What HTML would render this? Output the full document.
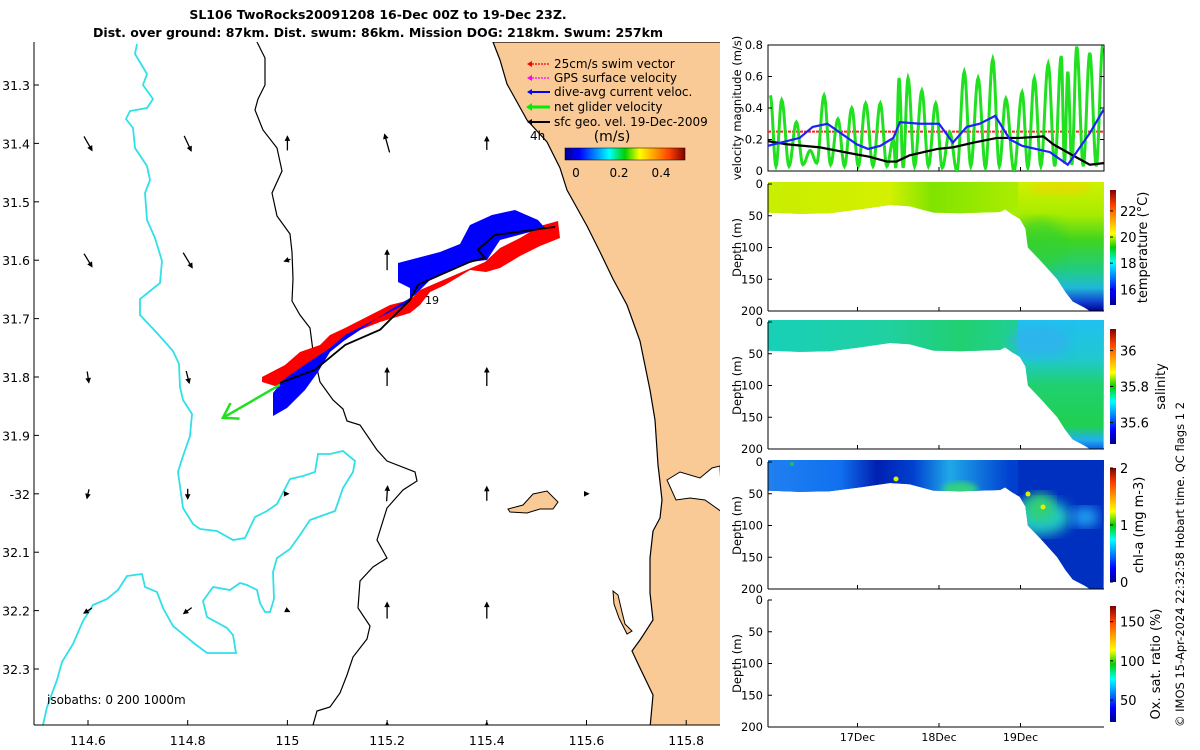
<!DOCTYPE html>
<html><head><meta charset="utf-8"><style>
html,body{margin:0;padding:0;background:#fff;}
svg{display:block;font-family:"DejaVu Sans","Liberation Sans",sans-serif;}
</style></head><body>
<svg id="fig" width="1200" height="750" viewBox="0 0 1200 750" xmlns="http://www.w3.org/2000/svg">
<defs>
  <clipPath id="mapclip"><rect x="34" y="42" width="686" height="683"/></clipPath>
  <clipPath id="velclip"><rect x="768" y="45" width="336" height="126"/></clipPath>
  <linearGradient id="jet" x1="0" x2="1" y1="0" y2="0">
    <stop offset="0" stop-color="#00008f"/><stop offset="0.12" stop-color="#0000ff"/><stop offset="0.37" stop-color="#00ffff"/>
    <stop offset="0.5" stop-color="#00d000"/><stop offset="0.62" stop-color="#ffff00"/><stop offset="0.87" stop-color="#ff4000"/><stop offset="1" stop-color="#800000"/>
  </linearGradient>
  <linearGradient id="jetv" x1="0" x2="0" y1="1" y2="0">
    <stop offset="0" stop-color="#00008f"/><stop offset="0.12" stop-color="#0000ff"/><stop offset="0.37" stop-color="#00ffff"/>
    <stop offset="0.5" stop-color="#00d000"/><stop offset="0.62" stop-color="#ffff00"/><stop offset="0.87" stop-color="#ff4000"/><stop offset="1" stop-color="#800000"/>
  </linearGradient>
  <linearGradient id="tDeep" x1="0" x2="0" y1="0" y2="1">
    <stop offset="0" stop-color="#d0f000"/><stop offset="0.25" stop-color="#a8ec00"/><stop offset="0.45" stop-color="#40d420"/>
    <stop offset="0.68" stop-color="#20cc80"/><stop offset="0.82" stop-color="#20b8d8"/><stop offset="0.93" stop-color="#1040d0"/><stop offset="1" stop-color="#000090"/>
  </linearGradient>
  <linearGradient id="tTop" x1="768" x2="1010" y1="0" y2="0" gradientUnits="userSpaceOnUse">
    <stop offset="0" stop-color="#c8ee00"/><stop offset="0.5" stop-color="#d4f000"/><stop offset="0.68" stop-color="#80e400"/><stop offset="1" stop-color="#a8ec00"/>
  </linearGradient>
  <linearGradient id="sDeep" x1="0" x2="0" y1="0" y2="1">
    <stop offset="0" stop-color="#20c0f0"/><stop offset="0.3" stop-color="#20c8d0"/><stop offset="0.5" stop-color="#20d070"/>
    <stop offset="0.82" stop-color="#20d050"/><stop offset="0.93" stop-color="#20b0f0"/><stop offset="1" stop-color="#1060e0"/>
  </linearGradient>
  <linearGradient id="sTop" x1="768" x2="1010" y1="0" y2="0" gradientUnits="userSpaceOnUse">
    <stop offset="0" stop-color="#18d0b8"/><stop offset="0.5" stop-color="#20d0a0"/><stop offset="0.8" stop-color="#20d070"/><stop offset="1" stop-color="#20d090"/>
  </linearGradient>
  <linearGradient id="cTop" x1="768" x2="1010" y1="0" y2="0" gradientUnits="userSpaceOnUse">
    <stop offset="0" stop-color="#2080f0"/><stop offset="0.3" stop-color="#1070f0"/><stop offset="0.45" stop-color="#0020b0"/><stop offset="0.6" stop-color="#0040d0"/>
    <stop offset="0.75" stop-color="#20a8e8"/><stop offset="1" stop-color="#0040d0"/>
  </linearGradient>
  <filter id="blur6"><feGaussianBlur stdDeviation="6"/></filter>
  <filter id="blur3"><feGaussianBlur stdDeviation="3"/></filter>
</defs>

<!-- TITLE -->
<text x="378" y="19" text-anchor="middle" font-size="12.5" font-weight="bold">SL106 TwoRocks20091208 16-Dec 00Z to 19-Dec 23Z.</text>
<text x="378" y="37" text-anchor="middle" font-size="12.5" font-weight="bold">Dist. over ground: 87km. Dist. swum: 86km. Mission DOG: 218km. Swum: 257km</text>

<!-- MAP -->
<g clip-path="url(#mapclip)">
  <path fill="#f9c996" stroke="#000" stroke-width="1.2"
   d="M493,42 L500,60 L507,84 L527,120 L547,142 L560,168 L567,190 L577,208 L587,226 L600,252 L613,279 L627,305 L640,341 L650,390 L655,420 L658,465 L660,482 L662,500 L660,518 L653,531 L650,558 L650,593 L653,620 L640,640 L632,651 L640,668 L653,695 L650,728 L730,728 L730,42 Z"/>
  <path fill="#fff" stroke="#000" stroke-width="1" d="M667,480 L680,472 L700,478 L712,468 L720,466 L722,512 L705,500 L690,498 L676,500 Z"/>
  <path fill="#f9c996" stroke="#000" stroke-width="1" d="M508,509 L523,505 L533,494 L547,491 L558,502 L553,509 L540,509 L527,513 L510,512 Z"/>
  <path fill="#f9c996" stroke="#000" stroke-width="1" d="M613,591 L618,595 L622,612 L625,624 L632,631 L627,634 L619,618 L614,604 Z"/>
  <path fill="none" stroke="#30e0e8" stroke-width="1.8"
   d="M137,44 L135,54 L147,74 L143,85 L153,99 L147,108 L130,111 L126,119 L133,128 L135,148 L147,166 L150,180 L145,193 L147,220 L155,238 L162,261 L160,283 L140,299 L140,315 L157,333 L173,351 L179,364 L180,387 L183,400 L192,414 L190,436 L182,459 L178,472 L183,508 L193,524 L200,529 L217,531 L233,540 L245,538 L255,517 L267,511 L277,504 L290,479 L303,476 L315,472 L318,454 L330,454 L343,451 L355,461 L353,472 L343,488 L335,511 L310,520 L300,535 L290,549 L277,558 L273,572 L274,599 L270,612 L265,612 L260,603 L257,590 L247,585 L240,583 L230,590 L213,587 L203,601 L207,617 L227,628 L233,635 L236,653 L220,653 L207,653 L195,644 L173,626 L163,608 L157,592 L145,587 L142,574 L127,576 L118,590 L107,599 L93,605 L83,621 L73,644 L62,662 L57,680 L47,707 L43,725"/>
  <path fill="none" stroke="#000" stroke-width="1.2"
   d="M257,42 L265,58 L265,85 L258,99 L255,110 L263,130 L277,148 L282,171 L272,193 L277,216 L290,234 L292,252 L293,279 L292,301 L300,315 L310,328 L313,351 L320,382 L333,400 L343,409 L347,421 L360,425 L377,450 L387,461 L415,472 L417,481 L403,490 L387,508 L377,540 L387,558 L373,567 L360,581 L358,608 L370,626 L367,639 L353,657 L347,675 L340,693 L330,707 L317,711 L313,725"/>
  <path fill="#f00" d="M262,377 L285,365 L300,352 L320,345 L330,335 L345,328 L390,305 L410,300 L420,290 L485,262 L500,248 L520,238 L540,226 L558,221 L560,238 L540,246 L520,256 L500,268 L486,272 L470,270 L445,285 L430,292 L420,305 L410,313 L380,322 L360,330 L345,340 L320,355 L295,378 L275,386 L262,382 Z"/>
  <path fill="#0000ff" d="M273,393 L283,380 L300,368 L330,348 L345,335 L390,312 L410,302 L410,288 L398,282 L398,263 L440,252 L460,244 L470,225 L492,215 L515,210 L538,220 L545,228 L500,240 L487,260 L470,262 L430,280 L415,295 L390,310 L345,340 L330,352 L318,372 L305,390 L287,408 L273,416 Z"/>
  <polyline id="trackLine" fill="none" stroke="#000" stroke-width="1.8"/>
  <g id="vecField"></g>
  <g id="netArrow"></g>
  <text x="425" y="304" font-size="11">19</text>
  <text x="530" y="140" font-size="12">4h</text>
  <text x="47" y="704" font-size="12">isobaths: 0   200  1000m</text>
</g>
<line x1="34" y1="42" x2="34" y2="725" stroke="#000"/>
<line x1="34" y1="725" x2="720" y2="725" stroke="#000"/>
<g id="mapTicks" font-size="12.5"></g>

<!-- MAP LEGEND -->
<g font-size="12">
  <g><line x1="532" y1="64" x2="550" y2="64" stroke="#f00" stroke-width="1.2" stroke-dasharray="2,1"/><path d="M527,64 l5,-3 v6z" fill="#f00"/><text x="554" y="68">25cm/s swim vector</text></g>
  <g><line x1="532" y1="78" x2="550" y2="78" stroke="#f0f" stroke-width="1.2" stroke-dasharray="2,1"/><path d="M527,78 l5,-3 v6z" fill="#f0f"/><text x="554" y="82">GPS surface velocity</text></g>
  <g><line x1="530" y1="92" x2="550" y2="92" stroke="#0000ff" stroke-width="2"/><path d="M527,92 l5,-3 v6z" fill="#00f"/><text x="554" y="96">dive-avg current veloc.</text></g>
  <g><line x1="530" y1="107" x2="550" y2="107" stroke="#00ee00" stroke-width="3"/><path d="M526,107 l6,-4 v8z" fill="#0e0"/><text x="554" y="111">net glider velocity</text></g>
  <g><line x1="530" y1="122" x2="550" y2="122" stroke="#000" stroke-width="2"/><path d="M527,122 l5,-3 v6z" fill="#000"/><text x="554" y="126">sfc geo. vel. 19-Dec-2009</text></g>
  <text x="612" y="141" font-size="14" text-anchor="middle">(m/s)</text>
  <rect x="565" y="148" width="120" height="12" fill="url(#jet)" stroke="#000" stroke-width="0.5"/>
  <text x="576" y="177" text-anchor="middle">0</text><text x="619" y="177" text-anchor="middle">0.2</text><text x="661" y="177" text-anchor="middle">0.4</text>
</g>

<!-- VELOCITY PANEL -->
<rect x="768" y="45" width="336" height="126" fill="#fff" stroke="#000"/>
<g clip-path="url(#velclip)">
  <line id="swimRef" stroke="#ff2020" stroke-width="2" stroke-dasharray="3,1"/>
  <path id="greenLine" fill="none" stroke="#20e020" stroke-width="3"/>
  <polyline id="blackLine" fill="none" stroke="#000" stroke-width="2.2"/>
  <polyline id="blueLine" fill="none" stroke="#2020ff" stroke-width="2.2"/>
</g>
<g id="velTicks" font-size="11.5"></g>
<text transform="translate(741,108) rotate(-90)" text-anchor="middle" font-size="11.5">velocity magnitude (m/s)</text>

<!-- SECTIONS -->
<g id="sections"></g>

<text transform="translate(1184,727) rotate(-90)" font-size="11.5">© IMOS 15-Apr-2024 22:32:58 Hobart time. QC flags 1  2</text>
</svg>

<script>
// ===== Velocity data (days of Dec 2009, m/s) =====
const greenT = [15.93,16.00,16.07,16.16,16.25,16.33,16.42,16.50,16.59,16.67,16.76,16.84,16.93,17.01,17.10,17.19,17.28,17.36,17.44,17.47,17.51,17.56,17.62,17.70,17.79,17.87,17.96,18.04,18.13,18.22,18.31,18.39,18.48,18.57,18.66,18.74,18.82,18.92,19.02,19.09,19.17,19.25,19.34,19.42,19.50,19.54,19.58,19.63,19.69,19.77,19.85,19.93,20.01];
const greenV = [0.48,0.03,0.45,0.03,0.31,0.04,0.13,0.05,0.48,0.04,0.33,0.03,0.40,0.03,0.43,0.03,0.43,0.03,0.20,0.02,0.59,0.02,0.59,0.03,0.51,0.03,0.43,0.02,0.25,0.00,0.63,0.03,0.59,0.02,0.71,0.03,0.46,0.00,0.50,0.02,0.59,0.03,0.68,0.03,0.73,0.05,0.63,0.04,0.79,0.03,0.75,0.03,0.80];
const blueT = [15.90,16.29,16.45,16.63,16.99,17.13,17.28,17.44,17.52,17.77,18.00,18.17,18.34,18.50,18.69,18.87,19.02,19.36,19.58,19.85,20.02];
const blueV = [0.16,0.21,0.28,0.30,0.17,0.14,0.16,0.21,0.31,0.30,0.30,0.18,0.28,0.30,0.35,0.20,0.16,0.12,0.04,0.24,0.39];
const blackT = [15.90,16.13,16.54,16.94,17.15,17.36,17.48,17.64,17.98,18.17,18.42,18.71,18.99,19.28,19.40,19.64,19.85,20.02];
const blackV = [0.19,0.17,0.15,0.11,0.09,0.06,0.06,0.10,0.14,0.15,0.18,0.21,0.21,0.22,0.17,0.10,0.04,0.05];
const swimSpeed = 0.25;
const velTicks = [0,0.2,0.4,0.6,0.8];
const dayTicks = [17,18,19];
const dayLabels = ['17Dec','18Dec','19Dec'];

// ===== Map data (lon E, lat S, m/s) =====
const trackLon = [114.985,115.055,115.116,115.186,115.246,115.262,115.366,115.396,115.382,115.416,115.537];
const trackLat = [31.810,31.788,31.745,31.719,31.668,31.642,31.603,31.596,31.582,31.557,31.543];
const vecLon = [114.6,114.8,115.0,115.2,115.4, 114.6,114.8,115.0,115.2, 114.6,114.8,115.2,115.4, 114.6,114.8,115.0,115.2,115.4,115.6, 114.6,114.8,115.0,115.2,115.4, 115.0,115.2,115.4];
const vecLat = [31.4,31.4,31.4,31.4,31.4, 31.6,31.6,31.6,31.6, 31.8,31.8,31.8,31.8, 32.0,32.0,32.0,32.0,32.0,32.0, 32.2,32.2,32.2,32.2,32.2, 32.4,32.4,32.4];
const vecU = [0.04,0.035,0,-0.025,0, 0.04,0.045,-0.03,0, 0.008,0.015,0,0, -0.01,0,0.01,0.005,0,0.02, -0.04,-0.04,0.02,0,0, 0,0,0];
const vecV = [-0.07,-0.075,0.07,0.09,0.065, -0.065,-0.075,-0.01,0.1, -0.055,-0.06,0.09,0.09, -0.045,-0.05,0,0.075,0.07,0, -0.025,-0.03,-0.01,0.08,0.08, 0.02,0.05,0.05];
const netU = -0.285, netV = -0.165;
const lonTicks = [114.6,114.8,115,115.2,115.4,115.6,115.8];
const latTicks = [31.3,31.4,31.5,31.6,31.7,31.8,31.9,32.0,32.1,32.2,32.3];
const latLabels = ['31.3','31.4','31.5','31.6','31.7','31.8','31.9','-32','32.1','32.2','32.3'];

// ===== Section data =====
const bottomT = [15.90,16.29,16.66,17.03,17.40,17.64,17.93,18.26,18.75,18.81,18.90,18.99,19.06,19.09,19.24,19.45,19.55,19.64,19.79,19.85,20.02];
const bottomD = [45,47,46,40,33,35,45,46,44,40,48,55,70,100,120,150,170,185,195,200,200];
const depthTicks = [0,50,100,150,200];
const tempTicks = [16,18,20,22], tempRange = [14.8,23.6];
const salTicks = [35.6,35.8,36], salRange = [35.48,36.12];
const chlTicks = [0,1,2], chlRange = [0,2];
const oxTicks = [50,100,150], oxRange = [22,170];

const NS = 'http://www.w3.org/2000/svg';
function mk(tag, attrs, parent){const e=document.createElementNS(NS,tag);for(const k in attrs)e.setAttribute(k,attrs[k]);if(parent)parent.appendChild(e);return e;}

// axis functions
const X0=768, X1=1104;
const dayX = d => 776 + (d-16)*81.5;
const velY = v => 171 - v/0.8*126;
const lonX = lon => 88 + (lon-114.6)*498.5;
const latY = lat => 85 + (lat-31.3)*584;

// ---- velocity panel ----
document.getElementById('blueLine').setAttribute('points', blueT.map((t,i)=>dayX(t)+','+velY(blueV[i])).join(' '));
document.getElementById('blackLine').setAttribute('points', blackT.map((t,i)=>dayX(t)+','+velY(blackV[i])).join(' '));
(function(){
  // cosine interpolation between successive peaks/troughs
  let d='M'+dayX(greenT[0])+','+velY(greenV[0]);
  for(let i=0;i<greenT.length-1;i++){
    for(let k=1;k<=10;k++){
      const s=k/10, w=(1-Math.cos(Math.PI*s))/2;
      const t=greenT[i]+(greenT[i+1]-greenT[i])*s, v=greenV[i]+(greenV[i+1]-greenV[i])*w;
      d+=' L'+dayX(t).toFixed(2)+','+velY(v).toFixed(2);
    }
  }
  document.getElementById('greenLine').setAttribute('d', d);
  const s=document.getElementById('swimRef');
  s.setAttribute('x1',X0);s.setAttribute('x2',X1);s.setAttribute('y1',velY(swimSpeed));s.setAttribute('y2',velY(swimSpeed));
  const g=document.getElementById('velTicks');
  velTicks.forEach(v=>{
    const y=velY(v);
    mk('line',{x1:X0,x2:X0+4,y1:y,y2:y,stroke:'#000'},g);
    mk('line',{x1:X1-4,x2:X1,y1:y,y2:y,stroke:'#000'},g);
    const t=mk('text',{x:X0-5,y:y+4,'text-anchor':'end'},g);t.textContent=String(v);
    
    
  });
  dayTicks.forEach(d=>{const x=dayX(d);mk('line',{x1:x,x2:x,y1:171,y2:167,stroke:'#000'},g);});
})();

// ---- map ----
document.getElementById('trackLine').setAttribute('points', trackLon.map((l,i)=>lonX(l)+','+latY(trackLat[i])).join(' '));
(function(){
  const g=document.getElementById('vecField'); const sc=200;
  vecLon.forEach((lon,i)=>{
    const x=lonX(lon), y=latY(vecLat[i]);
    const dx=vecU[i]*sc, dy=-vecV[i]*sc;
    const ex=x+dx/2, ey=y+dy/2, sx=x-dx/2, sy=y-dy/2;
    const a=mk('line',{x1:sx,y1:sy,x2:ex,y2:ey,stroke:'#000','stroke-width':1.3},g);
    
    
    const L=Math.hypot(dx,dy);
    if(L>0.5){const ux=dx/L,uy=dy/L;
      mk('path',{d:`M${ex},${ey} L${ex-ux*4-uy*2},${ey-uy*4+ux*2} L${ex-ux*4+uy*2},${ey-uy*4-ux*2}Z`,fill:'#000',stroke:'#000'},g);}
    else mk('circle',{cx:x,cy:y,r:1.2,fill:'#000'},g);
  });
  const n=document.getElementById('netArrow');
  const sx=lonX(trackLon[0]), sy=latY(trackLat[0])+2;
  const ex=sx+netU*200, ey=sy-netV*200;
  mk('line',{x1:sx,y1:sy,x2:ex,y2:ey,stroke:'#20e020','stroke-width':2.5},n);
  const L=Math.hypot(ex-sx,ey-sy),ux=(ex-sx)/L,uy=(ey-sy)/L;
  mk('polyline',{points:`${ex-ux*14-uy*9},${ey-uy*14+ux*9} ${ex},${ey} ${ex-ux*14+uy*9},${ey-uy*14-ux*9}`,fill:'none',stroke:'#20e020','stroke-width':2.5},n);
  const t=document.getElementById('mapTicks');
  lonTicks.forEach(l=>{const x=lonX(l);mk('line',{x1:x,x2:x,y1:725,y2:720,stroke:'#000'},t);
    const e=mk('text',{x:x,y:745,'text-anchor':'middle'},t);e.textContent=String(l);
    
    });
  latTicks.forEach((l,i)=>{const y=latY(l);mk('line',{x1:34,x2:39,y1:y,y2:y,stroke:'#000'},t);
    const e=mk('text',{x:30,y:y+5,'text-anchor':'end'},t);e.textContent=latLabels[i];
    
    });
})();

// ---- sections ----
(function(){
  const root=document.getElementById('sections');
  const panels=[
    {top:184,name:'temperature',label:'temperature (°C)',ticks:tempTicks,range:tempRange,cbTop:190,cbBot:305,lx:1147},
    {top:322,name:'salinity',label:'salinity',ticks:salTicks,range:salRange,cbTop:329,cbBot:444,lx:1165},
    {top:462,name:'chl-a',label:'chl-a (mg m-3)',ticks:chlTicks,range:chlRange,cbTop:468,cbBot:582,lx:1143},
    {top:600,name:'oxygen',label:'Ox. sat. ratio (%)',ticks:oxTicks,range:oxRange,cbTop:606,cbBot:722,lx:1160}
  ];
  const H=127;
  panels.forEach((p,pi)=>{
    const g=mk('g',{},root);
    
    
    const dY=d=>p.top+d/200*H;
    if(pi<3){
      const cid='sclip'+pi;
      const cp=mk('clipPath',{id:cid},g);
      let d='M'+X0+','+(p.top-2)+' L'+X1+','+(p.top-2);
      for(let i=bottomT.length-1;i>=0;i--) d+=' L'+dayX(bottomT[i])+','+dY(bottomD[i]);
      d+=' Z'; mk('path',{d:d},cp);
      const f=mk('g',{'clip-path':'url(#'+cid+')'},g);
      
      
      if(pi===0){
        mk('rect',{x:X0,y:p.top-2,width:336,height:H+2,fill:'url(#tDeep)'},f);
        mk('rect',{x:X0,y:p.top-2,width:250,height:H*0.25+2,fill:'url(#tTop)'},f);
        mk('ellipse',{cx:1060,cy:p.top+4,rx:30,ry:7,fill:'#e8d800',filter:'url(#blur3)',opacity:0.7},f);
        mk('ellipse',{cx:1040,cy:p.top+60,rx:25,ry:25,fill:'#30d030',filter:'url(#blur6)',opacity:0.6},f);
      } else if(pi===1){
        mk('rect',{x:X0,y:p.top-2,width:336,height:H+2,fill:'url(#sDeep)'},f);
        mk('rect',{x:X0,y:p.top-2,width:250,height:H*0.25+2,fill:'url(#sTop)'},f);
        mk('ellipse',{cx:1040,cy:p.top+20,rx:30,ry:16,fill:'#30b0f0',filter:'url(#blur6)',opacity:0.8},f);
      } else {
        mk('rect',{x:X0,y:p.top-2,width:336,height:H+2,fill:'#0030c0'},f);
        mk('rect',{x:X0,y:p.top-2,width:250,height:H*0.25+2,fill:'url(#cTop)'},f);
        mk('ellipse',{cx:960,cy:p.top+28,rx:18,ry:8,fill:'#30d080',filter:'url(#blur3)'},f);
        mk('ellipse',{cx:1040,cy:p.top+55,rx:30,ry:18,fill:'#20c8c0',filter:'url(#blur6)'},f);
        mk('ellipse',{cx:1040,cy:p.top+45,rx:14,ry:14,fill:'#30d070',filter:'url(#blur6)'},f);
        mk('ellipse',{cx:1085,cy:p.top+55,rx:14,ry:10,fill:'#20a0f0',filter:'url(#blur6)'},f);
        mk('circle',{cx:1028,cy:p.top+32,r:2.5,fill:'#e0f000'},f);
        mk('circle',{cx:1043,cy:p.top+45,r:2.5,fill:'#e0f000'},f);
        mk('circle',{cx:896,cy:p.top+17,r:2.5,fill:'#e0f000'},f);
        mk('circle',{cx:792,cy:p.top+2,r:2,fill:'#20c060'},f);
      }
    }
    mk('line',{x1:X0,x2:X0,y1:p.top,y2:p.top+H,stroke:'#000'},g);
    mk('line',{x1:X0,x2:X1,y1:p.top+H,y2:p.top+H,stroke:'#000'},g);
    depthTicks.forEach(dv=>{const y=dY(dv);mk('line',{x1:X0,x2:X0+4,y1:y,y2:y,stroke:'#000'},g);
      const t=mk('text',{x:X0-5,y:y+4,'text-anchor':'end','font-size':11.5},g);t.textContent=String(dv);
      
      });
    dayTicks.forEach(d=>{const x=dayX(d);mk('line',{x1:x,x2:x,y1:p.top+H,y2:p.top+H-4,stroke:'#000'},g);});
    const yl=mk('text',{transform:`translate(741,${p.top+H/2}) rotate(-90)`,'text-anchor':'middle','font-size':11.5},g);yl.textContent='Depth (m)';
    
    
    const cb=mk('rect',{x:1110,y:p.cbTop,width:6,height:p.cbBot-p.cbTop,fill:'url(#jetv)'},g);
    
    
    p.ticks.forEach(v=>{const y=p.cbBot-(v-p.range[0])/(p.range[1]-p.range[0])*(p.cbBot-p.cbTop);
      mk('line',{x1:1110,x2:1113,y1:y,y2:y,stroke:'#000'},g);
      const t=mk('text',{x:1120,y:y+5,'font-size':13},g);t.textContent=String(v);
      
      });
    const cl=mk('text',{transform:`translate(${p.lx},${(p.cbTop+p.cbBot)/2}) rotate(-90)`,'text-anchor':'middle','font-size':13},g);cl.textContent=p.label;
    
    
    if(pi===3){dayTicks.forEach((d,i)=>{const t=mk('text',{x:dayX(d),y:741,'text-anchor':'middle','font-size':11},g);t.textContent=dayLabels[i];
      
      });}
  });
})();
</script>
</body></html>
